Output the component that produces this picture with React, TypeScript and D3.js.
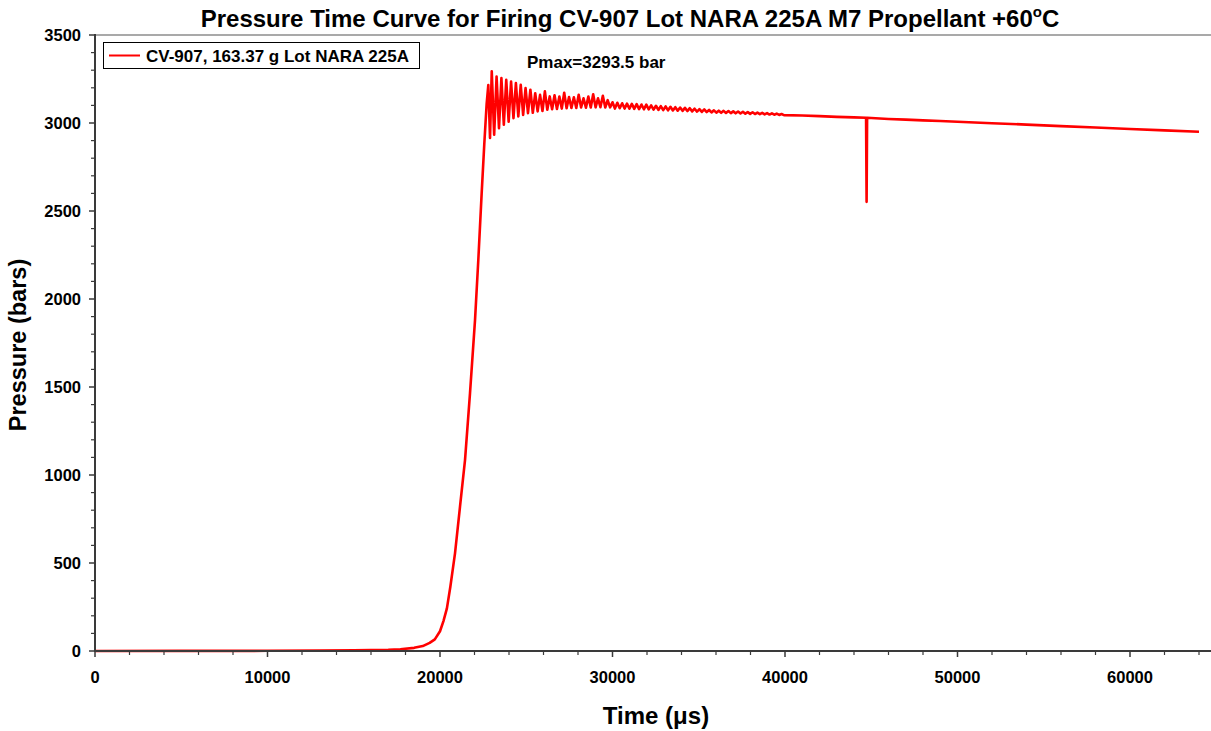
import React from "react";
import * as d3 from "d3";

// ---- data (time in µs, pressure in bar) ----
const riseData: [number, number][] = [
  [0, 0], [5000, 0.5], [10000, 1], [13000, 2], [15000, 4], [17000, 7], [17700, 10],
  [18500, 18], [19000, 28], [19400, 46], [19700, 66], [20000, 112], [20200, 170],
  [20400, 242], [20600, 365], [20870, 555], [21160, 820], [21450, 1085], [21740, 1465],
  [22030, 1880], [22220, 2220], [22415, 2600], [22570, 2885], [22705, 3110],
];

const oscillationData: [number, number][] = [
  [22800, 3215], [22900, 2915], [23000, 3294], [23140, 2933], [23280, 3264], [23420, 2970],
  [23560, 3255], [23700, 2990], [23840, 3245], [23980, 3008], [24120, 3236], [24260, 3027],
  [24400, 3227], [24540, 3037], [24680, 3217], [24820, 3046], [24960, 3198], [25100, 3056],
  [25240, 3189], [25380, 3058], [25520, 3169], [25660, 3066], [25800, 3160], [25940, 3068],
  [26080, 3180], [26220, 3075], [26360, 3151], [26500, 3078], [26640, 3158], [26780, 3080],
  [26920, 3150], [27060, 3082], [27200, 3172], [27340, 3084], [27480, 3148], [27620, 3086],
  [27760, 3146], [27900, 3085], [28040, 3160], [28180, 3088], [28320, 3140], [28460, 3087],
  [28600, 3150], [28740, 3088], [28880, 3163], [29020, 3089], [29160, 3140], [29300, 3090],
  [29440, 3155], [29580, 3088], [29720, 3130], [29860, 3089], [30000, 3118], [30140, 3082],
  [30280, 3115], [30420, 3084], [30560, 3112], [30700, 3082], [30840, 3110], [30980, 3081],
  [31120, 3109], [31260, 3080], [31400, 3107], [31540, 3079], [31680, 3105], [31820, 3078],
  [31960, 3104], [32100, 3077], [32240, 3100], [32380, 3076], [32520, 3098], [32660, 3074],
  [32800, 3096], [32940, 3073], [33080, 3094], [33220, 3072], [33360, 3092], [33500, 3071],
  [33640, 3090], [33780, 3070], [33920, 3088], [34060, 3069], [34200, 3086], [34340, 3068],
  [34480, 3084], [34620, 3066], [34760, 3081], [34900, 3065], [35040, 3079], [35180, 3063],
  [35320, 3077], [35460, 3062], [35600, 3074], [35740, 3060], [35880, 3072], [36020, 3059],
  [36160, 3070], [36300, 3058], [36440, 3069], [36580, 3057], [36720, 3068], [36860, 3056],
  [37000, 3066], [37140, 3055], [37280, 3065], [37420, 3054], [37560, 3064], [37700, 3053],
  [37840, 3062], [37980, 3052], [38120, 3061], [38260, 3051], [38400, 3059], [38540, 3050],
  [38680, 3058], [38820, 3049], [38960, 3056], [39100, 3048], [39240, 3055], [39380, 3047],
  [39520, 3053], [39660, 3046], [39800, 3051], [39940, 3045],
];

const decayData: [number, number][] = [
  [41000, 3043], [42000, 3039], [43000, 3035], [44000, 3032], [44700, 3030], [44730, 2552],
  [44760, 3029], [45000, 3028], [46000, 3023], [47000, 3019], [48000, 3015], [49000, 3011],
  [50000, 3007], [52000, 2999], [54000, 2991], [56000, 2982], [58000, 2974], [60000, 2966],
  [62000, 2958], [64000, 2950],
];

const xTickValues = [0, 10000, 20000, 30000, 40000, 50000, 60000];
const yTickValues = [0, 500, 1000, 1500, 2000, 2500, 3000, 3500];

const titleText = "Pressure Time Curve for Firing CV-907 Lot NARA 225A M7 Propellant +60";
const legendLabel = "CV-907, 163.37 g Lot NARA 225A";
const pmaxLabel = "Pmax=3293.5 bar";

const W = 1211;
const H = 731;
const FONT = "'Liberation Sans', Arial, Helvetica, sans-serif";

export default function App() {
  const x = d3.scaleLinear().domain([0, 65000]).range([95, 95 + 6.5 * 172.5]);
  const y = d3.scaleLinear().domain([0, 3500]).range([651, 35]);

  const all = [...riseData, ...oscillationData, ...decayData];
  const line = d3
    .line<[number, number]>()
    .x((d) => x(d[0]))
    .y((d) => y(d[1]));

  const xMinor = d3.range(0, 64001, 2000).filter((v) => v % 10000 !== 0);
  const yMinor = d3.range(0, 3501, 100).filter((v) => v % 500 !== 0);
  const axisColor = "#3a3a3a";

  return (
    <svg
      width={W}
      height={H}
      style={{ position: "absolute", left: 0, top: 0, background: "#fff" }}
      fontFamily={FONT}
    >
      {/* title */}
      <text x={630} y={27} textAnchor="middle" fontSize={24} fontWeight="bold" fill="#000">
        {titleText}
        <tspan fontSize={15} dy={-10}>o</tspan>
        <tspan dy={10}>C</tspan>
      </text>

      {/* top frame line */}
      <line x1={95} x2={W} y1={35} y2={35} stroke="#8c8c8c" strokeWidth={1.5} />

      {/* curve */}
      <path d={line(all) ?? ""} fill="none" stroke="#ff0000" strokeWidth={2.6} strokeLinejoin="round" />

      {/* axes */}
      <line x1={95} x2={95} y1={34} y2={652} stroke={axisColor} strokeWidth={2} />
      <line x1={94} x2={W} y1={651} y2={651} stroke={axisColor} strokeWidth={2} />

      {/* y ticks */}
      {yTickValues.map((v) => (
        <g key={"y" + v}>
          <line x1={89} x2={95} y1={y(v)} y2={y(v)} stroke={axisColor} strokeWidth={1.5} />
          <text x={81} y={y(v)} dy="0.36em" textAnchor="end" fontSize={16.5} fontWeight="bold">
            {v}
          </text>
        </g>
      ))}
      {yMinor.map((v) => (
        <line key={"ym" + v} x1={91} x2={95} y1={y(v)} y2={y(v)} stroke={axisColor} strokeWidth={1.2} />
      ))}

      {/* x ticks */}
      {xTickValues.map((v) => (
        <g key={"x" + v}>
          <line x1={x(v)} x2={x(v)} y1={651} y2={657} stroke={axisColor} strokeWidth={1.5} />
          <text x={x(v)} y={683} textAnchor="middle" fontSize={16.5} fontWeight="bold">
            {v}
          </text>
        </g>
      ))}
      {xMinor.map((v) => (
        <line key={"xm" + v} x1={x(v)} x2={x(v)} y1={651} y2={655} stroke={axisColor} strokeWidth={1.2} />
      ))}

      {/* axis titles */}
      <text x={656} y={724} textAnchor="middle" fontSize={24} fontWeight="bold">
        Time (μs)
      </text>
      <text
        transform={`translate(26,345) rotate(-90)`}
        textAnchor="middle"
        fontSize={23.5}
        fontWeight="bold"
      >
        Pressure (bars)
      </text>

      {/* legend */}
      <rect x={103.5} y={42.5} width={316} height={26} fill="#fff" stroke="#000" strokeWidth={1} />
      <line x1={109} x2={140} y1={55.5} y2={55.5} stroke="#ff0000" strokeWidth={2} />
      <text x={146} y={61.5} fontSize={17} fontWeight="bold">
        {legendLabel}
      </text>

      {/* annotation */}
      <text x={527} y={68} fontSize={17} fontWeight="bold">
        {pmaxLabel}
      </text>
    </svg>
  );
}
